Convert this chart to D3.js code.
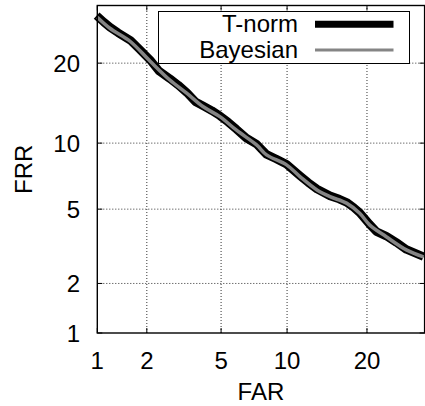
<!DOCTYPE html>
<html>
<head>
<meta charset="utf-8">
<script src="https://cdn.jsdelivr.net/npm/d3@7"></script>
<style>
  html, body { margin: 0; padding: 0; background: #fff; }
  svg { display: block; }
  text { font-family: "Liberation Sans", Arial, Helvetica, sans-serif; fill: #000; }
</style>
</head>
<body>
<svg id="chart" width="425" height="406"></svg>
<script>
// DET curves: false rejection rate vs false acceptance rate, both in percent,
// plotted on normal-deviate (probit) axes.
const tickValues = [1, 2, 5, 10, 20];
const tickLabels = ["1", "2", "5", "10", "20"];
const axisMin = 1;    // percent
const axisMax = 30;   // percent

const seriesNames = ["T-norm", "Bayesian"];

const tnormFAR = [0.99, 1.1, 1.2, 1.35, 1.6, 1.8, 2.09, 2.35, 2.7, 3.0, 3.33, 3.7, 4.05, 4.5, 4.93, 5.4, 5.94, 6.6, 7.36, 8.16, 9.0, 9.95, 11.3, 12.2, 13.2, 14.8, 16.0, 17.0, 18.0, 18.9, 20.4, 21.5, 23.1, 24.8, 26.6, 29.8];
const tnormFRR = [28.1, 26.9, 26.0, 25.0, 23.7, 22.3, 20.5, 18.8, 17.7, 16.8, 15.8, 14.6, 14.1, 13.5, 12.9, 12.2, 11.4, 10.5, 9.9, 8.95, 8.55, 8.1, 7.2, 6.7, 6.25, 5.8, 5.6, 5.4, 5.1, 4.8, 4.2, 3.85, 3.65, 3.38, 3.1, 2.83];

const bayesFAR = [1.0, 1.2, 1.6, 2.09, 2.7, 3.33, 4.05, 4.93, 5.94, 7.36, 8.16, 9.95, 11.3, 13.2, 14.8, 17.0, 18.9, 20.4, 23.1, 26.6, 29.8];
const bayesFRR = [27.8, 25.8, 23.5, 20.3, 17.5, 15.7, 14.0, 12.8, 11.3, 9.83, 8.91, 8.06, 7.14, 6.19, 5.75, 5.35, 4.77, 4.17, 3.62, 3.08, 2.82];

// Inverse standard normal CDF (Acklam's rational approximation)
function probit(p) {
  const a = [-3.969683028665376e+01, 2.209460984245205e+02, -2.759285104469687e+02,
             1.383577518672690e+02, -3.066479806614716e+01, 2.506628277459239e+00];
  const b = [-5.447609879822406e+01, 1.615858368580409e+02, -1.556989798598866e+02,
             6.680131188771972e+01, -1.328068155288572e+01];
  const c = [-7.784894002430293e-03, -3.223964580411365e-01, -2.400758277161838e+00,
             -2.549671010173313e+00, 4.374664141464968e+00, 2.938163982698783e+00];
  const d = [7.784695709041462e-03, 3.224671290700398e-01, 2.445134137142996e+00,
             3.754408661907416e+00];
  const pl = 0.02425, ph = 1 - pl;
  let q, r;
  if (p < pl) {
    q = Math.sqrt(-2 * Math.log(p));
    return (((((c[0]*q+c[1])*q+c[2])*q+c[3])*q+c[4])*q+c[5]) /
           ((((d[0]*q+d[1])*q+d[2])*q+d[3])*q+1);
  } else if (p <= ph) {
    q = p - 0.5; r = q * q;
    return (((((a[0]*r+a[1])*r+a[2])*r+a[3])*r+a[4])*r+a[5])*q /
           (((((b[0]*r+b[1])*r+b[2])*r+b[3])*r+b[4])*r+1);
  } else {
    q = Math.sqrt(-2 * Math.log(1 - p));
    return -(((((c[0]*q+c[1])*q+c[2])*q+c[3])*q+c[4])*q+c[5]) /
            ((((d[0]*q+d[1])*q+d[2])*q+d[3])*q+1);
  }
}
const dev = v => probit(v / 100);

const plot = { left: 97.3, right: 424.6, top: 5.5, bottom: 333 };

const xLin = d3.scaleLinear().domain([dev(axisMin), dev(axisMax)]).range([plot.left, plot.right]);
const yLin = d3.scaleLinear().domain([dev(axisMin), dev(axisMax)]).range([plot.bottom, plot.top]);
const x = v => xLin(dev(v));
const y = v => yLin(dev(v));

const svg = d3.select("#chart");

// grid
const grid = svg.append("g");
tickValues.filter(v => v > axisMin).forEach(v => {
  grid.append("line")
    .attr("x1", x(v)).attr("x2", x(v))
    .attr("y1", plot.bottom).attr("y2", plot.top)
    .attr("stroke", "#333").attr("stroke-width", 1).attr("stroke-dasharray", "1,2");
  grid.append("line")
    .attr("x1", plot.left).attr("x2", plot.right)
    .attr("y1", y(v)).attr("y2", y(v))
    .attr("stroke", "#333").attr("stroke-width", 1).attr("stroke-dasharray", "1,2");
});

// inward tick marks on all sides
const ticks = svg.append("g").attr("stroke", "#000").attr("stroke-width", 1);
const tl = 5;
tickValues.forEach(v => {
  const xv = x(v), yv = y(v);
  ticks.append("line").attr("x1", xv).attr("x2", xv).attr("y1", plot.bottom).attr("y2", plot.bottom - tl);
  ticks.append("line").attr("x1", xv).attr("x2", xv).attr("y1", plot.top).attr("y2", plot.top + tl);
  ticks.append("line").attr("x1", plot.left).attr("x2", plot.left + tl).attr("y1", yv).attr("y2", yv);
  ticks.append("line").attr("x1", plot.right).attr("x2", plot.right - tl).attr("y1", yv).attr("y2", yv);
});

// tick labels
const labels = svg.append("g").style("font-size", "24px");
tickValues.forEach((v, i) => {
  labels.append("text")
    .attr("x", x(v)).attr("y", 368.5)
    .attr("text-anchor", "middle")
    .text(tickLabels[i]);
  labels.append("text")
    .attr("x", 80).attr("y", y(v) + 8.6)
    .attr("text-anchor", "end")
    .text(tickLabels[i]);
});

// axis titles
svg.append("text")
  .attr("x", (plot.left + plot.right) / 2).attr("y", 400)
  .attr("text-anchor", "middle").style("font-size", "24px")
  .text("FAR");
svg.append("text")
  .attr("transform", `translate(31.5,${(plot.top + plot.bottom) / 2}) rotate(-90)`)
  .attr("text-anchor", "middle").style("font-size", "24px")
  .text("FRR");

// curves
const line = d3.line().x(d => x(d[0])).y(d => y(d[1]));
const tnorm = tnormFAR.map((f, i) => [f, tnormFRR[i]]);
const bayes = bayesFAR.map((f, i) => [f, bayesFRR[i]]);

svg.append("path").datum(tnorm)
  .attr("d", line.curve(d3.curveLinear))
  .attr("fill", "none").attr("stroke", "#000")
  .attr("stroke-width", 8.5).attr("stroke-linejoin", "round").attr("stroke-linecap", "butt");
svg.append("path").datum(bayes)
  .attr("d", line.curve(d3.curveCatmullRom))
  .attr("fill", "none").attr("stroke", "#858585")
  .attr("stroke-width", 3.5).attr("stroke-linejoin", "round");

// legend
const leg = svg.append("g");
leg.append("rect")
  .attr("x", 158.5).attr("y", 11.5).attr("width", 251).attr("height", 52)
  .attr("fill", "#fff").attr("stroke", "#000").attr("stroke-width", 1);
const legStyles = [
  { color: "#000", width: 7, yMid: 24.3 },
  { color: "#858585", width: 3, yMid: 50 }
];
seriesNames.forEach((name, i) => {
  const s = legStyles[i];
  leg.append("text")
    .attr("x", 298).attr("y", s.yMid + 7.8)
    .attr("text-anchor", "end").style("font-size", "24px")
    .text(name);
  leg.append("line")
    .attr("x1", 315).attr("x2", 393.5).attr("y1", s.yMid).attr("y2", s.yMid)
    .attr("stroke", s.color).attr("stroke-width", s.width);
});

// border
svg.append("rect")
  .attr("x", plot.left).attr("y", plot.top)
  .attr("width", plot.right - plot.left).attr("height", plot.bottom - plot.top)
  .attr("fill", "none").attr("stroke", "#000").attr("stroke-width", 1.4);
</script>
</body>
</html>
